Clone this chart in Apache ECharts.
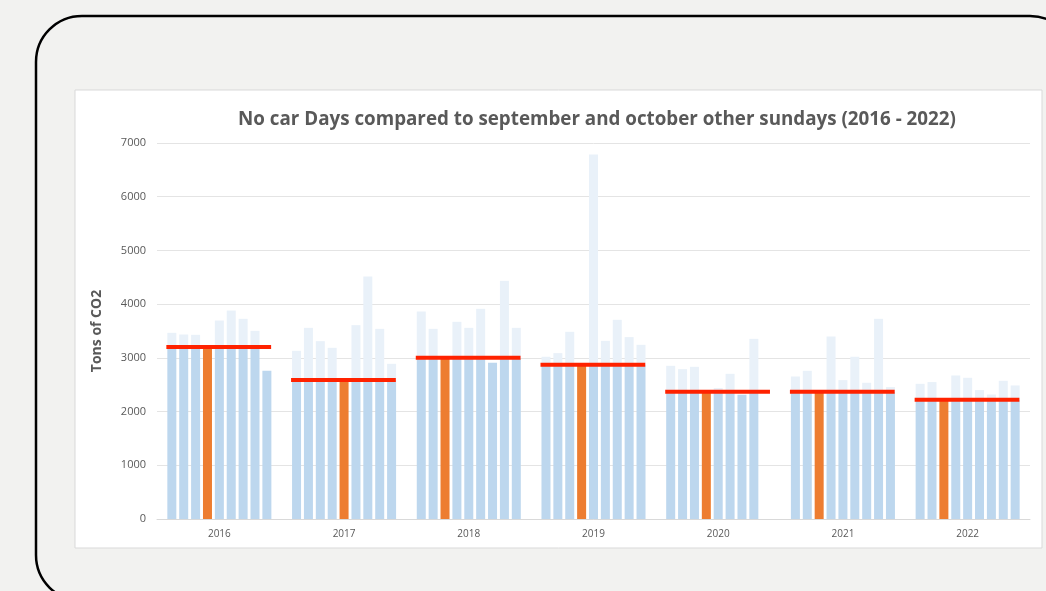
<!DOCTYPE html>
<html>
<head>
<meta charset="utf-8">
<script src="https://cdn.jsdelivr.net/npm/echarts@6/dist/echarts.min.js"></script>
<style>
  html, body { margin: 0; padding: 0; background: #f2f2f0; }
  #chart { width: 1046px; height: 591px; }
</style>
</head>
<body>
<div id="chart"></div>
<script>
// categories
const years = ['2016', '2017', '2018', '2019', '2020', '2021', '2022']

// the 9 september / october sundays of each year (tons of CO2)
const sundays2016 = [3466, 3435, 3429, 3200, 3695, 3881, 3727, 3503, 2759]
const sundays2017 = [3131, 3559, 3311, 3187, 2590, 3609, 4514, 3540, 2889]
const sundays2018 = [3863, 3540, 3000, 3671, 3559, 3913, 2908, 4434, 3559]
const sundays2019 = [3020, 3088, 3485, 2870, 6784, 3317, 3708, 3386, 3243]
const sundays2020 = [2852, 2790, 2833, 2370, 2437, 2703, 2313, 3354, null]
const sundays2021 = [2653, 2759, 2370, 3398, 2586, 3020, 2536, 3727, 2456]
const sundays2022 = [2517, 2549, 2220, 2672, 2629, 2400, 2318, 2573, 2486]

// which sunday was the no car day
const noCarIndex = [3, 4, 2, 3, 3, 2, 2]

const sundays = [sundays2016, sundays2017, sundays2018, sundays2019, sundays2020, sundays2021, sundays2022]
const noCarLevel = sundays.map((s, i) => s[noCarIndex[i]])

const chart = echarts.init(document.getElementById('chart'))

const series = []
for (let k = 0; k < 9; k++) {
  // part of the bar up to the no car day level
  series.push({
    type: 'bar',
    stack: 's' + k,
    barWidth: 9,
    barGap: '32%',
    itemStyle: { color: '#bdd7ee' },
    data: sundays.map((s, i) => {
      const v = s[k]
      if (v == null) return null
      return {
        value: Math.min(v, noCarLevel[i]),
        itemStyle: k === noCarIndex[i] ? { color: '#ed7d31' } : undefined
      }
    })
  })
  // part above it
  series.push({
    type: 'bar',
    stack: 's' + k,
    barWidth: 9,
    barGap: '32%',
    itemStyle: { color: '#e9f1f9' },
    data: sundays.map((s, i) => s[k] == null ? null : Math.max(s[k] - noCarLevel[i], 0))
  })
}

// red line at the no car day level
series.push({
  type: 'custom',
  z: 10,
  renderItem(params, api) {
    const c = api.coord([api.value(0), api.value(1)])
    const w = api.size([1, 0])[0]
    return {
      type: 'line',
      shape: { x1: c[0] - 0.425 * w, y1: c[1], x2: c[0] + 0.415 * w, y2: c[1] },
      style: { stroke: '#ff2200', lineWidth: 4 }
    }
  },
  data: noCarLevel.map((v, i) => [i, v])
})

chart.setOption({
  backgroundColor: '#f2f2f0',
  animation: false,
  graphic: [
    { // rounded frame
      type: 'rect',
      z: -10,
      shape: { x: 36, y: 16, width: 1040, height: 585, r: 46 },
      style: { fill: 'none', stroke: '#000000', lineWidth: 2.5 }
    },
    { // white chart panel
      type: 'rect',
      z: -5,
      shape: { x: 75, y: 90, width: 967, height: 458 },
      style: { fill: '#ffffff', stroke: '#d9d9d9', lineWidth: 1 }
    }
  ],
  title: {
    text: 'No car Days compared to september and october other sundays (2016 - 2022)',
    left: 592,
    top: 105,
    textAlign: 'center',
    textStyle: {
      fontFamily: 'Open Sans',
      fontWeight: 'bold',
      fontSize: 18.8,
      color: '#595959'
    }
  },
  grid: { // plot area
    left: 157,
    right: 16,
    top: 143,
    bottom: 72
  },
  xAxis: {
    type: 'category',
    data: years,
    axisTick: { show: false },
    axisLine: { lineStyle: { color: '#d9d9d9' } },
    axisLabel: { color: '#595959', fontSize: 10, fontFamily: 'Open Sans', margin: 10 }
  },
  yAxis: {
    type: 'value',
    min: 0,
    max: 7000,
    interval: 1000,
    name: 'Tons of CO2',
    nameLocation: 'middle',
    nameGap: 53,
    nameTextStyle: { color: '#595959', fontSize: 14, fontWeight: 'bold', fontFamily: 'Open Sans' },
    axisLabel: {
      color: '#595959',
      fontSize: 11,
      fontFamily: 'Open Sans',
      margin: 11,
      formatter: v => String(v)
    },
    splitLine: { lineStyle: { color: '#e4e4e4' } }
  },
  series: series
})
</script>
</body>
</html>
